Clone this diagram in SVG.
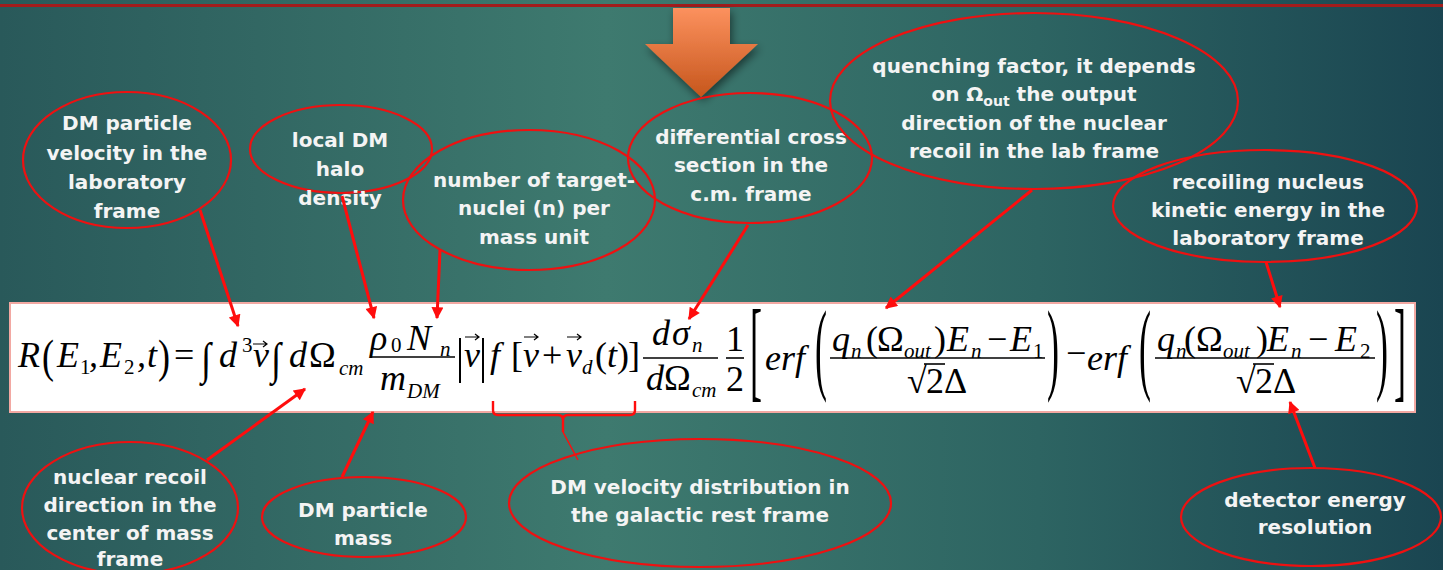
<svg xmlns="http://www.w3.org/2000/svg" width="1443" height="570" viewBox="0 0 1443 570">
<defs>
<linearGradient id="bg" x1="0" y1="0" x2="1" y2="0">
<stop offset="0" stop-color="#29595a"/>
<stop offset="0.42" stop-color="#3e7a6f"/>
<stop offset="0.72" stop-color="#2d6462"/>
<stop offset="1" stop-color="#1a4551"/>
</linearGradient>
<linearGradient id="org" x1="0" y1="0" x2="0" y2="1">
<stop offset="0" stop-color="#fc915e"/>
<stop offset="1" stop-color="#c6561c"/>
</linearGradient>
<filter id="sh" x="-30%" y="-30%" width="160%" height="160%">
<feDropShadow dx="2" dy="4" stdDeviation="4" flood-color="#000" flood-opacity="0.5"/>
</filter>
<marker id="ah" viewBox="0 0 10 10" refX="9" refY="5" markerWidth="15" markerHeight="12" markerUnits="userSpaceOnUse" orient="auto">
<path d="M0,0 L10,5 L0,10 z" fill="#ff0d0d"/>
</marker>
<style>
.ell{fill:none;stroke:#ee1111;stroke-width:2.2}
.lbl{font-family:"DejaVu Sans",sans-serif;font-weight:bold;font-size:20px;fill:#f4f4f4;text-anchor:middle}
.con{fill:none;stroke:#ff0d0d;stroke-width:3;marker-end:url(#ah)}
.mi{font-family:"Liberation Serif","Times New Roman",serif;font-style:italic;font-size:36px;fill:#000}
.mu{font-family:"Liberation Serif","Times New Roman",serif;font-size:36px;fill:#000}
.si{font-family:"Liberation Serif","Times New Roman",serif;font-style:italic;font-size:21px;fill:#000}
.su{font-family:"Liberation Serif","Times New Roman",serif;font-size:21px;fill:#000}
.ln{stroke:#000;stroke-width:1.6;fill:none}
.va{stroke:#000;stroke-width:1.2;fill:none}
</style>
</defs>
<rect x="0" y="0" width="1443" height="570" fill="url(#bg)"/>
<rect x="0" y="4" width="1443" height="3" fill="#a31c1c"/>
<polygon points="673,8 730,8 730,44 758,44 701,97 645,44 673,44" fill="url(#org)" filter="url(#sh)"/>

<g id="n-velocity">
<ellipse class="ell" cx="127" cy="160" rx="104" ry="68"/>
<text class="lbl" x="127" y="130">DM particle</text>
<text class="lbl" x="127" y="160">velocity in the</text>
<text class="lbl" x="127" y="189">laboratory</text>
<text class="lbl" x="127" y="218">frame</text>
</g>
<g id="n-halo">
<ellipse class="ell" cx="341" cy="149" rx="91" ry="44"/>
<text class="lbl" x="340" y="147">local DM</text>
<text class="lbl" x="340" y="176">halo</text>
<text class="lbl" x="340" y="205">density</text>
</g>
<g id="n-target">
<ellipse class="ell" cx="529" cy="200" rx="126" ry="70"/>
<text class="lbl" x="534" y="187">number of target-</text>
<text class="lbl" x="534" y="215">nuclei (n) per</text>
<text class="lbl" x="534" y="244">mass unit</text>
</g>
<g id="n-cross">
<ellipse class="ell" cx="750" cy="158" rx="122" ry="65"/>
<text class="lbl" x="751" y="144">differential cross</text>
<text class="lbl" x="751" y="172">section in the</text>
<text class="lbl" x="751" y="201">c.m. frame</text>
</g>
<g id="n-quench">
<ellipse class="ell" cx="1034" cy="101" rx="204" ry="88"/>
<text class="lbl" x="1034" y="73">quenching factor, it depends</text>
<text class="lbl" x="1034" y="101">on Ω<tspan font-size="14" dy="5">out</tspan><tspan dy="-5"> the output</tspan></text>
<text class="lbl" x="1034" y="130">direction of the nuclear</text>
<text class="lbl" x="1034" y="158">recoil in the lab frame</text>
</g>
<g id="n-recoil">
<ellipse class="ell" cx="1265" cy="206" rx="152" ry="56"/>
<text class="lbl" x="1268" y="189">recoiling nucleus</text>
<text class="lbl" x="1268" y="217">kinetic energy in the</text>
<text class="lbl" x="1268" y="245">laboratory frame</text>
</g>
<g id="n-direction">
<ellipse class="ell" cx="130" cy="508" rx="108" ry="66"/>
<text class="lbl" x="130" y="484">nuclear recoil</text>
<text class="lbl" x="130" y="512">direction in the</text>
<text class="lbl" x="130" y="540">center of mass</text>
<text class="lbl" x="130" y="566">frame</text>
</g>
<g id="n-mass">
<ellipse class="ell" cx="364" cy="517" rx="102" ry="40"/>
<text class="lbl" x="363" y="517">DM particle</text>
<text class="lbl" x="363" y="545">mass</text>
</g>
<g id="n-distribution">
<ellipse class="ell" cx="700" cy="503" rx="191" ry="64"/>
<text class="lbl" x="700" y="494">DM velocity distribution in</text>
<text class="lbl" x="700" y="522">the galactic rest frame</text>
</g>
<g id="n-resolution">
<ellipse class="ell" cx="1311" cy="517" rx="130" ry="49"/>
<text class="lbl" x="1315" y="507">detector energy</text>
<text class="lbl" x="1315" y="534">resolution</text>
</g>

<g id="formula">
<rect x="10" y="303" width="1405" height="109" fill="#ffffff" stroke="#f2a8a2" stroke-width="2"/>
<text class="mi" x="18" y="367">R</text>
<text class="mu" transform="translate(42,372) scale(1,1.3)">(</text>
<text class="mi" x="57" y="367">E</text>
<text class="su" x="80" y="374">1</text>
<text class="mi" x="89" y="367">,</text>
<text class="mi" x="100" y="367">E</text>
<text class="su" x="124" y="374">2</text>
<text class="mi" x="137" y="367">,</text>
<text class="mi" x="147" y="367">t</text>
<text class="mu" transform="translate(158,372) scale(1,1.3)">)</text>
<text class="mu" x="174" y="367" font-size="38">=</text>
<text class="mu" transform="translate(201,374) scale(1,1.25)">∫</text>
<text class="mi" x="219" y="367">d</text>
<text class="su" x="242" y="352">3</text>
<text class="mi" x="253" y="367">v</text>
<path class="va" d="M253,344 h14 M263,341 L267,344 L263,347"/>
<text class="mu" transform="translate(271,374) scale(1,1.25)">∫</text>
<text class="mi" x="289" y="367">d</text>
<text class="mu" x="309" y="367">Ω</text>
<text class="si" x="339" y="375">cm</text>
<text class="mi" x="370" y="350">ρ</text>
<text class="su" x="391" y="352" font-size="20">0</text>
<text class="mi" x="407" y="350">N</text>
<text class="si" x="440" y="356">n</text>
<line class="ln" x1="370" y1="357" x2="455" y2="357"/>
<text class="mi" x="380" y="390">m</text>
<text class="si" x="407" y="398" font-size="19">DM</text>
<line x1="460" y1="338" x2="460" y2="383" stroke="#000" stroke-width="2"/>
<text class="mi" x="464" y="367">v</text>
<path class="va" d="M465,337 h14 M475,334 L479,337 L475,340"/>
<line x1="483" y1="338" x2="483" y2="383" stroke="#000" stroke-width="2"/>
<text class="mi" x="490" y="367">f</text>
<text class="mu" x="511" y="367">[</text>
<text class="mi" x="523" y="367">v</text>
<path class="va" d="M524,337 h14 M534,334 L538,337 L534,340"/>
<text class="mu" x="542" y="367">+</text>
<text class="mi" x="566" y="367">v</text>
<path class="va" d="M567,337 h14 M577,334 L581,337 L577,340"/>
<text class="si" x="582" y="374">d</text>
<text class="mu" x="595" y="367">(</text>
<text class="mi" x="607" y="367">t</text>
<text class="mu" x="617" y="367">)</text>
<text class="mu" x="628" y="367">]</text>
<text class="mi" x="652" y="345">d</text>
<text class="mi" x="672" y="345">σ</text>
<text class="si" x="692" y="352">n</text>
<line class="ln" x1="643" y1="358" x2="718" y2="358"/>
<text class="mi" x="646" y="390">d</text>
<text class="mu" x="664" y="390">Ω</text>
<text class="si" x="692" y="397">cm</text>
<text class="mu" x="735" y="351" text-anchor="middle">1</text>
<line class="ln" x1="726" y1="358" x2="744" y2="358"/>
<text class="mu" x="735" y="391" text-anchor="middle">2</text>
<text class="mu" transform="translate(750,387) scale(1,3.1)">[</text>
<text class="mi" x="765" y="370">erf</text>
<text class="mu" transform="translate(815,381) scale(1,2.8)">(</text>
<text class="mi" x="832" y="351">q</text>
<text class="si" x="851" y="358">n</text>
<text class="mu" x="866" y="351">(</text>
<text class="mu" x="877" y="351">Ω</text>
<text class="si" x="904" y="358">out</text>
<text class="mu" x="934" y="351">)</text>
<text class="mi" x="947" y="351">E</text>
<text class="si" x="971" y="358">n</text>
<text class="mu" x="987" y="351">−</text>
<text class="mi" x="1010" y="351">E</text>
<text class="su" x="1033" y="358">1</text>
<line class="ln" x1="830" y1="358" x2="1045" y2="358"/>
<text class="mu" x="907" y="393">√</text>
<line class="ln" x1="924" y1="364" x2="945" y2="364"/>
<text class="mu" x="926" y="393">2</text>
<text class="mu" x="944" y="393">Δ</text>
<text class="mu" transform="translate(1047,381) scale(1,2.8)">)</text>
<text class="mu" x="1066" y="365">−</text>
<text class="mi" x="1087" y="370">erf</text>
<text class="mu" transform="translate(1139,381) scale(1,2.8)">(</text>
<text class="mi" x="1157" y="351">q</text>
<text class="si" x="1176" y="358">n</text>
<text class="mu" x="1184" y="351">(</text>
<text class="mu" x="1196" y="351">Ω</text>
<text class="si" x="1223" y="358">out</text>
<text class="mu" x="1256" y="351">)</text>
<text class="mi" x="1267" y="351">E</text>
<text class="si" x="1291" y="358">n</text>
<text class="mu" x="1308" y="351">−</text>
<text class="mi" x="1335" y="351">E</text>
<text class="su" x="1360" y="358">2</text>
<line class="ln" x1="1155" y1="358" x2="1375" y2="358"/>
<text class="mu" x="1236" y="393">√</text>
<line class="ln" x1="1253" y1="364" x2="1274" y2="364"/>
<text class="mu" x="1255" y="393">2</text>
<text class="mu" x="1273" y="393">Δ</text>
<text class="mu" transform="translate(1376,381) scale(1,2.8)">)</text>
<text class="mu" transform="translate(1394,387) scale(1,3.1)">]</text>
</g>

<g id="connectors">
<line class="con" x1="200" y1="210" x2="238" y2="326"/>
<line class="con" x1="342" y1="196" x2="374" y2="318"/>
<line class="con" x1="440" y1="250" x2="437" y2="318"/>
<line class="con" x1="748" y1="225" x2="689" y2="319"/>
<line class="con" x1="1032" y1="190" x2="886" y2="308"/>
<line class="con" x1="1266" y1="262" x2="1280" y2="307"/>
<line class="con" x1="207" y1="460" x2="305" y2="389"/>
<line class="con" x1="342" y1="477" x2="373" y2="412"/>
<line class="con" x1="1315" y1="468" x2="1290" y2="402"/>
<path d="M493,401 L493,410 Q493,415 498,415 L558,415 Q563,415 563,420 L563,432" fill="none" stroke="#ff0d0d" stroke-width="2.4"/>
<path d="M563,432 L578,460" fill="none" stroke="#ff0d0d" stroke-width="1.5"/>
<path d="M635,401 L635,410 Q635,415 630,415 L568,415 Q563,415 563,420" fill="none" stroke="#ff0d0d" stroke-width="2.4"/>
</g>
</svg>
